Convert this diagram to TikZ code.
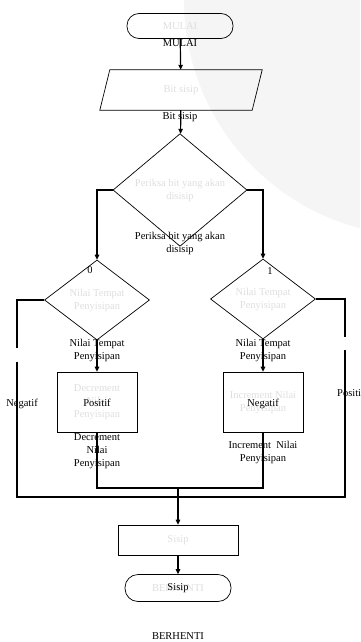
\documentclass[tikz,border=0pt]{standalone}
\usepackage{fontspec}
\setmainfont{Liberation Serif}
\usepackage{tikz}
\usetikzlibrary{shapes.geometric,arrows.meta}

\tikzset{
  faint/.style={text=black!13, font=\fontsize{10.5}{13}\selectfont, align=center},
  lbl/.style={font=\fontsize{10.5}{13}\selectfont, align=center, inner sep=0pt},
  terminal/.style={faint, draw, line width=0.7pt, rectangle, rounded corners=12pt, minimum width=106pt, minimum height=25pt},
  prosesbox/.style={faint, draw, line width=0.7pt, rectangle, inner sep=0pt},
  keputusan/.style={faint, draw, line width=0.7pt, diamond, inner sep=0pt},
  alur/.style={line width=1.2pt, -{Triangle[length=5pt,width=4.5pt]}},
  garis/.style={line width=1.2pt}
}

\begin{document}
\begin{tikzpicture}[x=1pt,y=-1pt]
\useasboundingbox (0,0) rectangle (360,642);
\begin{scope}
\clip (0,0) rectangle (360,642);
\fill[black!4] (420,0) circle (236);
\end{scope}

\node[terminal] (mulai) at (180,26) {MULAI};
\node[faint, minimum width=152pt, minimum height=40pt, inner sep=0pt] (bit) at (181,90) {Bit sisip};
\draw[line width=0.7pt] ([xshift=5pt]bit.north west) -- ([xshift=5pt]bit.north east)
  -- ([xshift=-5pt]bit.south east) -- ([xshift=-5pt]bit.south west) -- cycle;
\node[keputusan, minimum width=134pt, minimum height=100pt] (periksa) at (180,190) {Periksa bit yang akan\\disisip};
\node[keputusan, minimum width=105pt, minimum height=80pt] (nilaikiri) at (97,300) {Nilai Tempat\\Penyisipan};
\node[keputusan, minimum width=105pt, minimum height=80pt] (nilaikanan) at (263,299) {Nilai Tempat\\Penyisipan};
\node[prosesbox, minimum width=80pt, minimum height=60pt] (dec) at (97,402) {Decrement\\Nilai\\Penyisipan};
\node[prosesbox, minimum width=80pt, minimum height=60pt] (inc) at (263,402) {Increment Nilai\\Penyisipan};
\node[prosesbox, minimum width=120pt, minimum height=30pt] (sisip) at (178,540) {Sisip};
\node[terminal, minimum height=27pt, rounded corners=13pt] (berhenti) at (178,588) {BERHENTI};

\node[lbl] (lmulai) at (180,43) {MULAI};
\node[lbl] (lbit) at (180,117) {Bit sisip};
\node[lbl] (lperiksa) at (180,243) {Periksa bit yang akan\\disisip};
\node[lbl] (lnol) at (90,270) {0};
\node[lbl] (lsatu) at (270,271) {1};
\node[lbl] (lnilaikiri) at (97,350) {Nilai Tempat\\Penyisipan};
\node[lbl] (lnilaikanan) at (263,350) {Nilai Tempat\\Penyisipan};
\node[lbl] (lpositif) at (97,403) {Positif};
\node[lbl] (lnegatif) at (263,404) {Negatif};
\node[lbl] (lnegkiri) at (22,404) {Negatif};
\node[lbl, anchor=west] (lposkanan) at (337,393) {Positif};
\node[lbl] (ldec) at (97,451) {Decrement\\Nilai\\Penyisipan};
\node[lbl] (linc) at (263,452) {Increment\ \ Nilai\\Penyisipan};
\node[lbl] (lsisip) at (178,588) {Sisip};
\node[lbl] (lberhenti) at (178,636) {BERHENTI};

\coordinate (kiriatas) at (17,348);
\coordinate (kiribawah) at (17,362);
\coordinate (kananatas) at (345,337);
\coordinate (kananbawah) at (345,350);
\coordinate (gabung) at (178,488);

\draw[alur] (mulai) -- (bit);
\draw[alur] (bit) -- (periksa);
\draw[alur] (periksa.west) -| (nilaikiri.north);
\draw[alur] (periksa.east) -| (nilaikanan.north);
\draw[alur] (nilaikiri) -- (dec);
\draw[alur] (nilaikanan) -- (inc);
\draw[garis] (nilaikiri.west) -| (kiriatas);
\draw[garis] (kiribawah) |- (345,497) -- (kananbawah);
\draw[garis] (kananatas) |- (nilaikanan.east);
\draw[garis] (dec.south) |- (gabung) -| (inc.south);
\draw[alur, line width=1.8pt] (gabung) -- (sisip.north);
\draw[alur] (sisip) -- (berhenti);
\end{tikzpicture}
\end{document}
